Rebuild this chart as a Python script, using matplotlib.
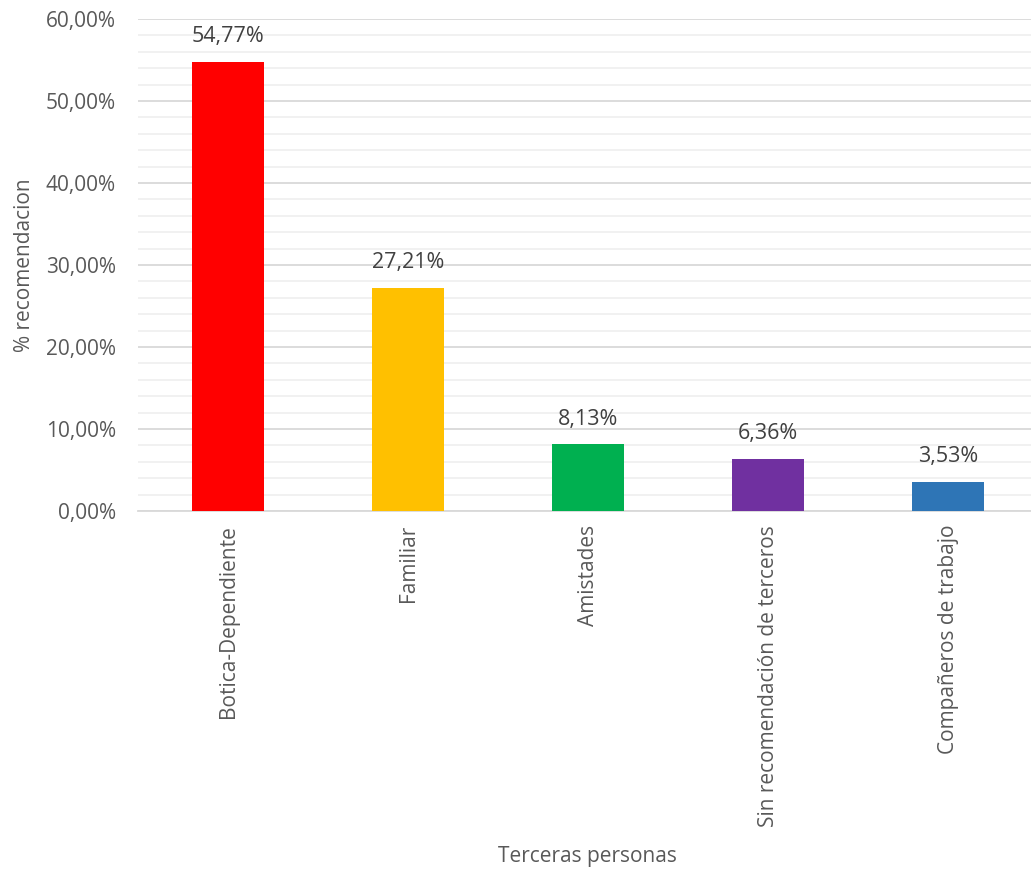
import matplotlib.pyplot as plt
from matplotlib.ticker import MultipleLocator, FuncFormatter

plt.rcParams['font.family'] = ['Open Sans', 'DejaVu Sans']

# data
categorias = ["Botica-Dependiente", "Familiar", "Amistades",
              "Sin recomendación de terceros", "Compañeros de trabajo"]
valores = [54.77, 27.21, 8.13, 6.36, 3.53]
colores = ["#FF0000", "#FFC000", "#00B050", "#7030A0", "#2E75B6"]

fig = plt.figure(figsize=(10.31, 8.71), dpi=100)
ax = fig.add_axes([0.134, 0.4133, 0.873, 0.5649])

x = range(len(categorias))
bars = ax.bar(x, valores, width=0.4, color=colores, zorder=3)

for b, v in zip(bars, valores):
    ax.text(b.get_x() + b.get_width() / 2, v + 1.8, f"{v:.2f}%".replace(".", ","),
            ha="center", va="bottom", fontsize=15.5, color="#404040")

ax.set_ylim(0, 60)
ax.set_xlim(-0.5, 4.5)
ax.yaxis.set_major_locator(MultipleLocator(10))
ax.yaxis.set_minor_locator(MultipleLocator(2))
ax.yaxis.set_major_formatter(FuncFormatter(lambda v, p: f"{v:.2f}%".replace(".", ",")))
ax.grid(axis="y", which="major", color="#D9D9D9", linewidth=1.3, zorder=0)
ax.grid(axis="y", which="minor", color="#F0F0F0", linewidth=1.3, zorder=0)
ax.tick_params(axis="y", which="both", length=0, labelsize=15, labelcolor="#595959", pad=16)
ax.tick_params(axis="x", length=0, labelsize=15, labelcolor="#595959", pad=10)
ax.set_xticks(list(x))
ax.set_xticklabels(categorias, rotation=90)
for s in ["top", "right", "left"]:
    ax.spines[s].set_visible(False)
ax.spines["bottom"].set_color("#D9D9D9")
ax.spines["bottom"].set_linewidth(1.3)

ax.set_ylabel("% recomendacion", fontsize=15, color="#595959", labelpad=8)
fig.text(0.57, 0.005, "Terceras personas", ha="center", va="bottom", fontsize=15, color="#595959")

fig.savefig("out.png", dpi=100)
